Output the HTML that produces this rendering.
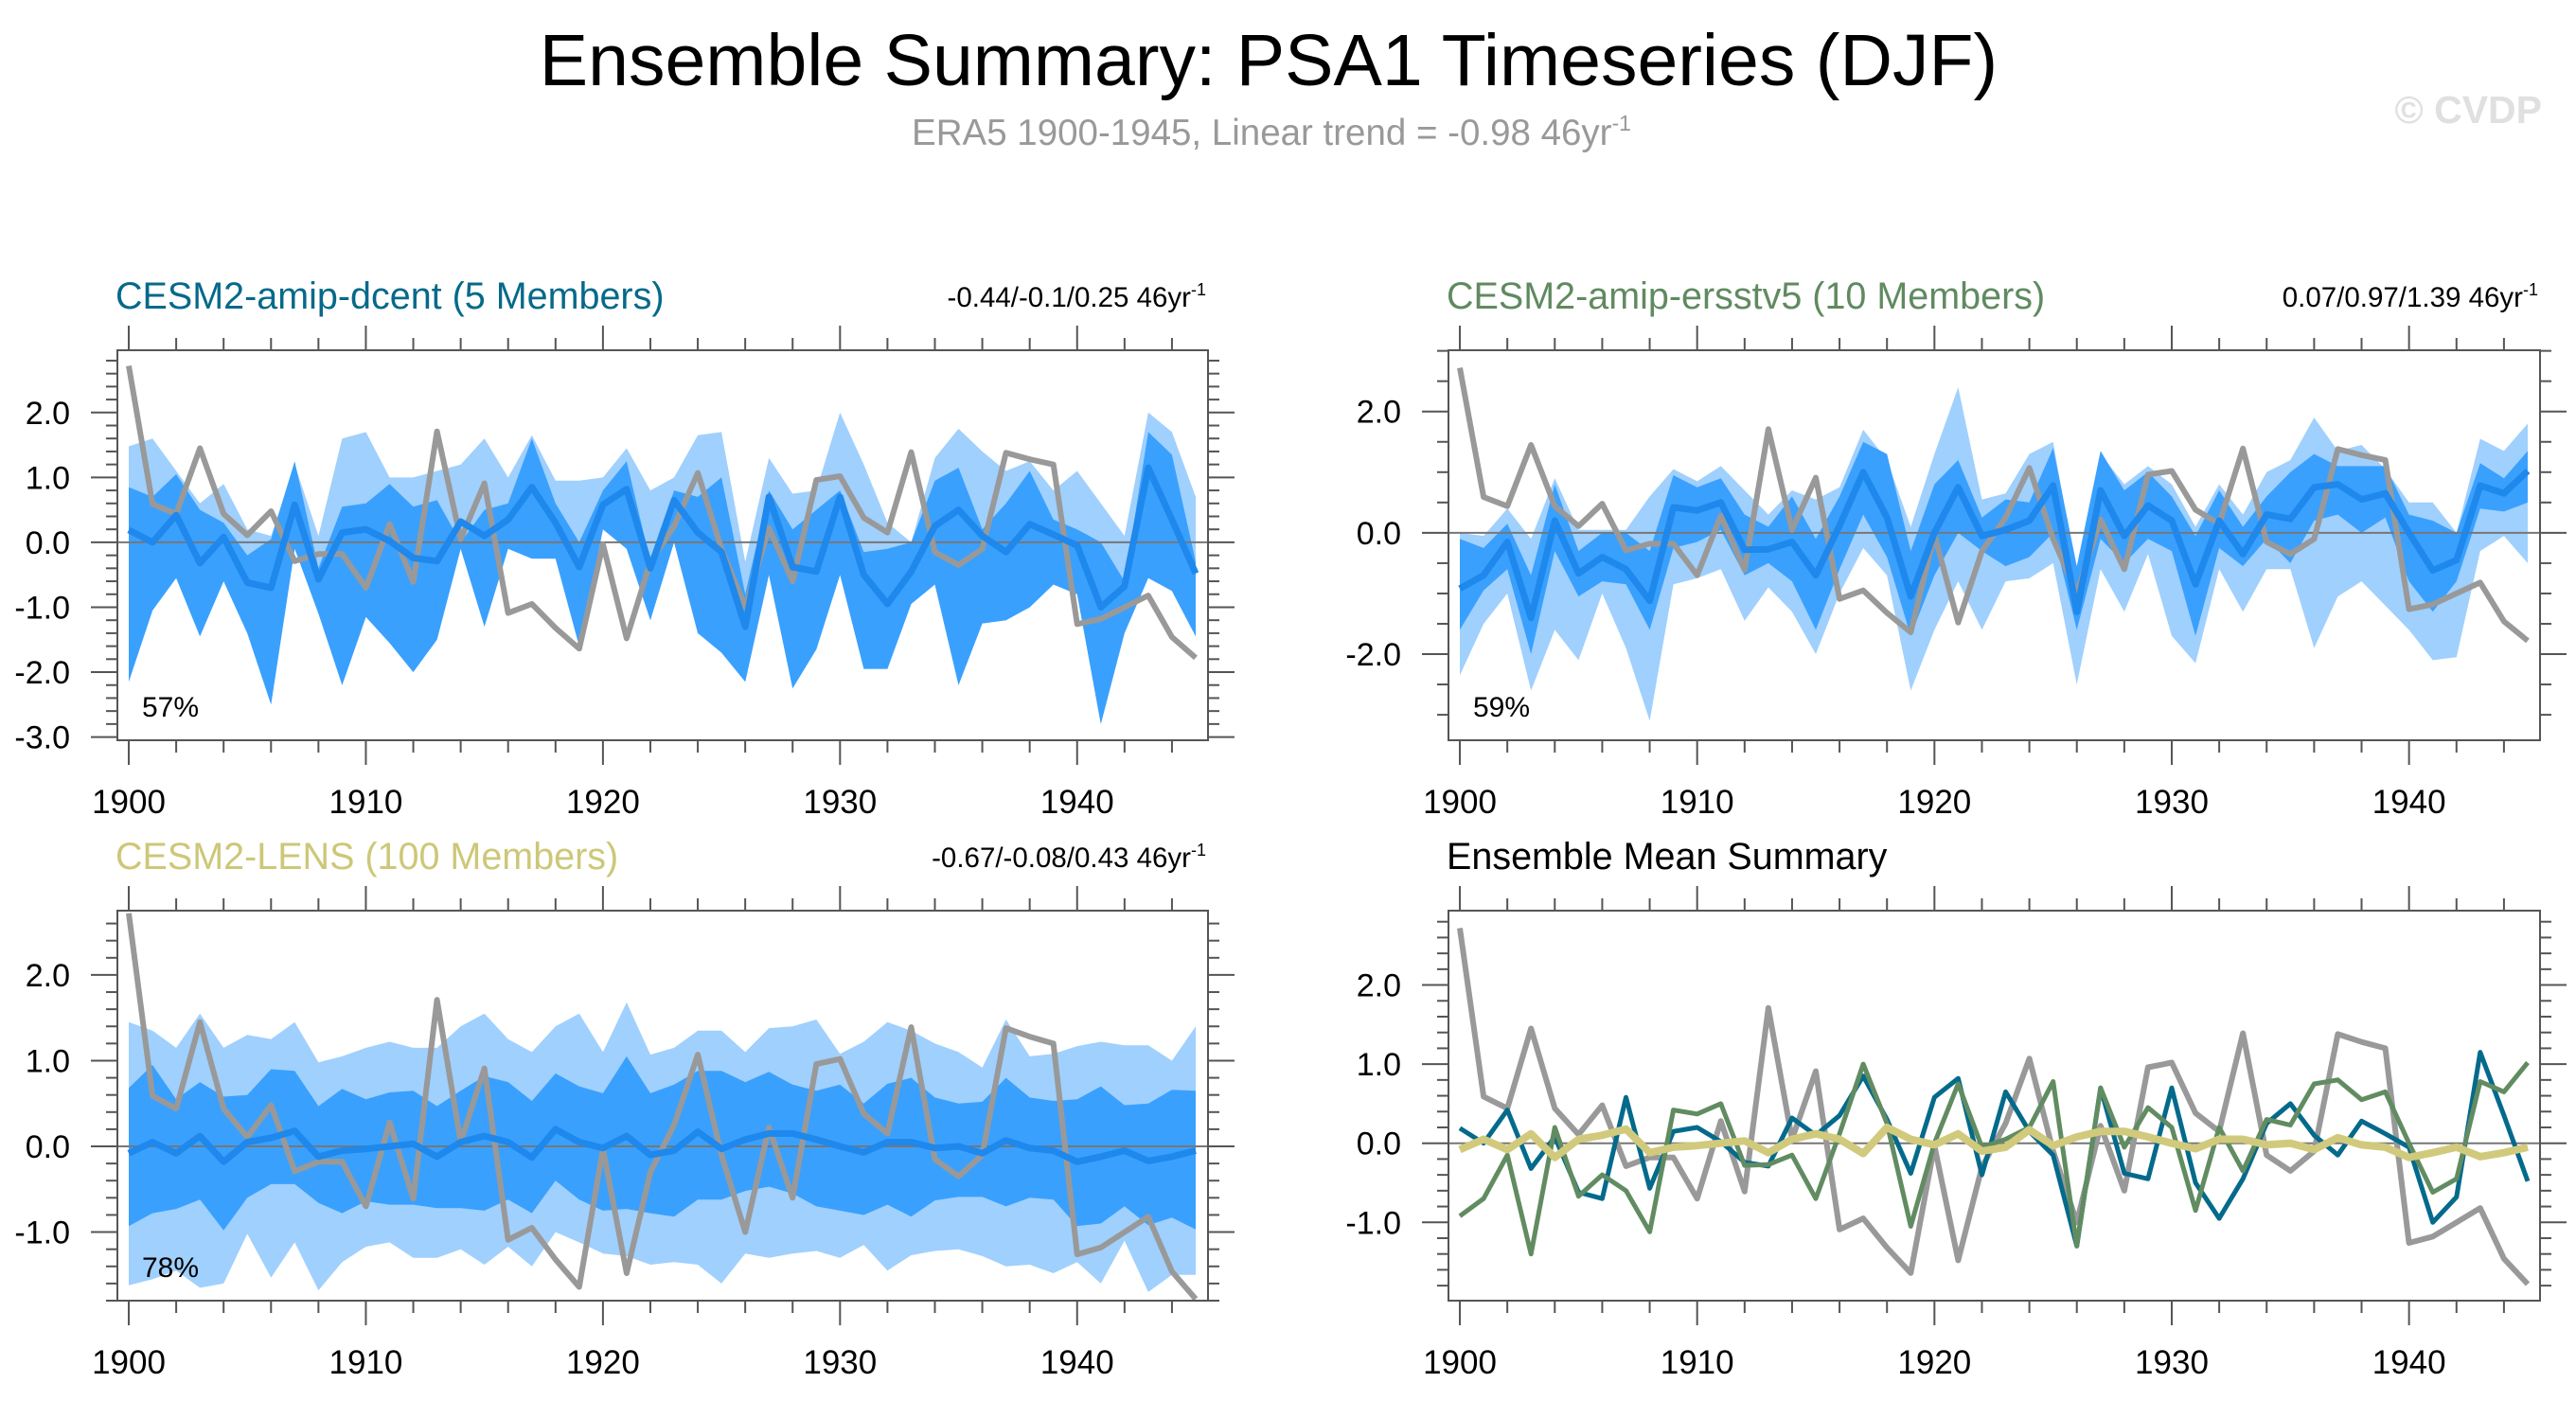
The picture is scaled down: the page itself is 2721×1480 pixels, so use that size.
<!DOCTYPE html>
<html><head><meta charset="utf-8"><style>
html,body{margin:0;padding:0;background:#fff;}
svg{display:block;font-family:"Liberation Sans",Arial,sans-serif;}
</style></head><body>
<svg id="chart" width="2721" height="1480" viewBox="0 0 2721 1480">
<text x="1340" y="90" font-size="77" text-anchor="middle" fill="#000">Ensemble Summary: PSA1 Timeseries (DJF)</text>
<text x="1343" y="153" font-size="38.5" text-anchor="middle" fill="#999">ERA5 1900-1945, Linear trend = -0.98 46yr<tspan dy="-15" font-size="23">-1</tspan></text>
<text x="2685" y="130" font-size="41" font-weight="bold" text-anchor="end" fill="#e0e0e0">© CVDP</text>
</svg>
<script>
const years = []; for (let y = 1900; y <= 1945; y++) years.push(y);
const era5 = [2.72,0.59,0.44,1.45,0.44,0.11,0.48,-0.29,-0.18,-0.18,-0.70,0.28,-0.61,1.71,0.05,0.91,-1.09,-0.95,-1.32,-1.64,-0.03,-1.48,-0.30,0.25,1.07,-0.10,-1.00,0.22,-0.60,0.96,1.02,0.38,0.15,1.39,-0.15,-0.35,-0.10,1.38,1.28,1.20,-1.26,-1.18,-1.00,-0.82,-1.46,-1.78];
const dcentMean = [0.19,0.0,0.42,-0.32,0.08,-0.62,-0.70,0.58,-0.57,0.15,0.20,0.02,-0.24,-0.29,0.32,0.10,0.35,0.85,0.30,-0.38,0.58,0.82,-0.40,0.65,0.15,-0.15,-1.30,0.70,-0.38,-0.45,0.70,-0.50,-0.95,-0.45,0.25,0.50,0.10,-0.15,0.28,0.12,-0.05,-1.00,-0.68,1.15,0.35,-0.48];
const dcentMax = [1.48,1.6,1.1,0.6,0.9,0.2,0.1,1.2,0.1,1.6,1.7,1.0,1.0,1.1,1.2,1.6,1.0,1.65,0.95,0.95,1.0,1.45,0.8,1.0,1.65,1.7,-0.3,1.3,0.75,0.8,2.0,1.2,0.3,0.0,1.3,1.75,1.4,1.1,1.25,0.8,1.1,0.6,0.1,2.0,1.7,0.7];
const dcentHi = [0.85,0.7,1.05,0.5,0.3,-0.2,0.05,1.25,-0.4,0.55,0.6,0.9,0.55,0.65,0.0,0.5,0.6,1.6,0.6,0.0,0.8,1.25,-0.3,0.8,0.7,1.0,-0.8,0.8,0.2,0.5,0.8,-0.15,-0.1,0.0,0.95,1.15,0.2,0.6,1.1,0.35,0.2,0.0,-0.6,1.7,1.35,-0.3];
const dcentLo = [-2.15,-1.05,-0.55,-1.45,-0.6,-1.4,-2.5,-0.1,-1.1,-2.2,-1.15,-1.55,-2.0,-1.5,-0.1,-1.3,-0.1,-0.25,-0.25,-1.6,0.2,-0.1,-1.2,0.0,-1.4,-1.7,-2.15,-0.5,-2.25,-1.65,-0.5,-1.95,-1.95,-0.95,-0.65,-2.2,-1.25,-1.2,-1.0,-0.65,-0.8,-2.8,-1.4,-0.55,-0.75,-1.45];
const dcentMin = dcentLo;
const ersMean = [-0.92,-0.7,-0.15,-1.4,0.2,-0.67,-0.4,-0.6,-1.12,0.42,0.37,0.5,-0.28,-0.27,-0.15,-0.7,0.12,1.0,0.25,-1.05,0.0,0.75,-0.05,0.05,0.2,0.78,-1.3,0.7,-0.05,0.45,0.2,-0.85,0.2,-0.35,0.3,0.23,0.75,0.8,0.55,0.65,0.0,-0.62,-0.45,0.78,0.65,1.02];
const ersMax = [0.0,-0.05,0.4,-0.1,0.9,0.05,0.05,0.05,0.6,1.05,0.85,1.1,0.7,0.3,0.7,0.55,0.75,1.7,1.2,0.1,1.3,2.4,0.55,0.65,1.3,1.5,-0.7,1.3,0.8,1.1,0.8,0.1,0.8,0.3,1.0,1.2,1.9,1.35,1.45,1.05,0.5,0.5,0.0,1.55,1.35,1.8];
const ersHi = [-0.1,-0.25,0.15,-0.7,0.8,-0.3,0.0,0.0,-0.3,0.95,0.75,0.9,0.3,0.1,0.6,-0.1,0.6,1.5,1.3,-0.3,0.8,1.2,0.25,0.55,0.5,1.4,-0.55,1.35,0.7,1.0,0.6,-0.05,0.7,0.1,0.6,1.0,1.3,1.1,1.1,1.1,0.3,0.2,0.0,1.15,0.9,1.35];
const ersLo = [-1.6,-0.95,-0.6,-2.0,-0.3,-1.05,-0.8,-0.85,-1.6,-0.25,-0.15,0.05,-0.7,-0.5,-0.8,-1.6,-0.6,0.3,-0.4,-1.7,-0.7,0.0,-0.3,-0.55,-0.4,0.0,-1.6,-0.1,-0.5,-0.1,-0.3,-1.7,-0.25,-0.55,-0.1,-0.5,0.2,0.3,0.0,0.25,-0.8,-1.3,-0.8,0.4,0.35,0.5];
const ersMin = [-2.35,-1.5,-1.0,-2.6,-1.6,-2.1,-1.0,-1.9,-3.1,-0.85,-0.75,-0.6,-1.45,-0.9,-1.3,-2.0,-1.0,-0.25,-0.7,-2.6,-1.6,-0.8,-1.6,-0.8,-0.75,-0.5,-2.5,-0.6,-1.3,-0.35,-1.7,-2.15,-0.6,-1.3,-0.6,-0.6,-1.9,-1.05,-0.8,-1.2,-1.6,-2.1,-2.05,-0.3,-0.05,-0.5];
const lensMean = [-0.08,0.05,-0.08,0.12,-0.18,0.05,0.1,0.18,-0.12,-0.05,-0.03,0.0,0.03,-0.12,0.05,0.12,0.05,-0.13,0.2,0.05,-0.02,0.12,-0.1,-0.05,0.17,-0.03,0.08,0.15,0.15,0.08,0.0,-0.07,0.05,0.05,-0.02,0.0,-0.08,0.07,-0.02,-0.05,-0.18,-0.12,-0.05,-0.17,-0.12,-0.05];
const lensMax = [1.45,1.35,1.15,1.55,1.15,1.3,1.25,1.45,0.98,1.05,1.15,1.22,1.15,1.15,1.4,1.55,1.25,1.1,1.4,1.55,1.1,1.68,1.07,1.15,1.35,1.35,1.1,1.38,1.4,1.48,1.08,1.22,1.45,1.35,1.2,1.1,0.92,1.48,1.05,1.08,1.17,1.22,1.18,1.18,1.0,1.4];
const lensHi = [0.68,0.95,0.55,0.75,0.58,0.6,0.9,0.88,0.47,0.67,0.55,0.63,0.65,0.47,0.65,0.82,0.75,0.53,0.85,0.7,0.62,1.05,0.62,0.72,0.88,0.88,0.75,0.87,0.72,0.65,0.72,0.5,0.73,0.8,0.57,0.5,0.52,0.8,0.57,0.53,0.55,0.7,0.48,0.5,0.66,0.65];
const lensLo = [-0.93,-0.78,-0.73,-0.62,-0.98,-0.6,-0.44,-0.44,-0.66,-0.78,-0.64,-0.68,-0.68,-0.72,-0.72,-0.75,-0.62,-0.78,-0.4,-0.62,-0.75,-0.73,-0.78,-0.82,-0.62,-0.62,-0.52,-0.47,-0.55,-0.7,-0.75,-0.8,-0.68,-0.82,-0.63,-0.59,-0.59,-0.7,-0.6,-0.62,-0.93,-0.9,-0.7,-0.92,-0.83,-0.97];
const lensMin = [-1.62,-1.55,-1.45,-1.65,-1.6,-1.02,-1.53,-1.12,-1.68,-1.35,-1.17,-1.12,-1.3,-1.3,-1.2,-1.38,-1.17,-1.4,-1.0,-1.12,-1.25,-1.28,-1.38,-1.35,-1.38,-1.6,-1.25,-1.3,-1.25,-1.22,-1.3,-1.15,-1.45,-1.27,-1.22,-1.2,-1.28,-1.4,-1.38,-1.48,-1.35,-1.6,-1.1,-1.7,-1.5,-1.5];
const xTickLabels = [1900,1910,1920,1930,1940];

const NS = "http://www.w3.org/2000/svg";
const svg = document.getElementById('chart');
function mk(tag, attrs, parent) {
  const e = document.createElementNS(NS, tag);
  for (const k in attrs) e.setAttribute(k, attrs[k]);
  (parent || svg).appendChild(e);
  return e;
}
const panels = [
  {id:'dcent', L:124, R:1276, T:370, B:782, ymin:-3.05, ymax:2.96, major:[-3,-2,-1,0,1,2], labels:[-3,-2,-1,0,1,2], minorStep:0.2,
   title:'CESM2-amip-dcent (5 Members)', tcol:'#06698a', trend:'-0.44/-0.1/0.25 46yr', pct:'57%', mean:dcentMean, max:dcentMax, hi:dcentHi, lo:dcentLo, min:dcentMin},
  {id:'ersstv5', L:1530, R:2683, T:370, B:782, ymin:-3.42, ymax:3.01, major:[-2,0,2], labels:[-2,0,2], minorStep:0.5,
   title:'CESM2-amip-ersstv5 (10 Members)', tcol:'#608a60', trend:'0.07/0.97/1.39 46yr', pct:'59%', mean:ersMean, max:ersMax, hi:ersHi, lo:ersLo, min:ersMin},
  {id:'lens', L:124, R:1276, T:962, B:1374, ymin:-1.80, ymax:2.75, major:[-1,0,1,2], labels:[-1,0,1,2], minorStep:0.2,
   title:'CESM2-LENS (100 Members)', tcol:'#cdc778', trend:'-0.67/-0.08/0.43 46yr', pct:'78%', mean:lensMean, max:lensMax, hi:lensHi, lo:lensLo, min:lensMin},
  {id:'summary', L:1530, R:2683, T:962, B:1374, ymin:-1.99, ymax:2.94, major:[-1,0,1,2], labels:[-1,0,1,2], minorStep:0.2,
   title:'Ensemble Mean Summary', tcol:'#000', summary:true}
];
panels.forEach((p, pi) => {
  const g = mk('g', {});
  
  
  const xs = yr => p.L + (yr - 1899.52) / (1945.52 - 1899.52) * (p.R - p.L);
  const ys = v => p.B - (v - p.ymin) / (p.ymax - p.ymin) * (p.B - p.T);
  const clipId = 'clip' + pi;
  const cp = mk('clipPath', {id: clipId}, g);
  mk('rect', {x:p.L, y:p.T, width:p.R-p.L, height:p.B-p.T}, cp);
  const plot = mk('g', {'clip-path':'url(#'+clipId+')'}, g);
  const line = arr => arr.map((v,i)=>(i?'L':'M')+xs(years[i]).toFixed(1)+','+ys(v).toFixed(1)).join(' ');
  const band = (up, dn) => line(up) + ' ' + dn.slice().reverse().map((v,j)=>{const i=dn.length-1-j;return 'L'+xs(years[i]).toFixed(1)+','+ys(v).toFixed(1);}).join(' ') + ' Z';
  if (!p.summary) {
    const b1 = mk('path', {d: band(p.max, p.min), fill:'#a0d0fd'}, plot);
    
    
    const b2 = mk('path', {d: band(p.hi, p.lo), fill:'#3aa0fe'}, plot);
    
    
  }
  mk('line', {x1:p.L, x2:p.R, y1:ys(0), y2:ys(0), stroke:'#777', 'stroke-width':2}, plot);
  const e = mk('path', {d: line(era5), fill:'none', stroke:'#999', 'stroke-width':6, 'stroke-linejoin':'round'}, plot);
  
  
  if (!p.summary) {
    const m = mk('path', {d: line(p.mean), fill:'none', stroke:'#1e88ec', 'stroke-width':7, 'stroke-linejoin':'round'}, plot);
    
    
  } else {
    [[dcentMean,'#046a8c',5,'dcent-mean-line'],[ersMean,'#618c61',5,'ersstv5-mean-line'],[lensMean,'#d1ca7c',8,'lens-mean-line']].forEach(s=>{
      const m = mk('path', {d: line(s[0]), fill:'none', stroke:s[1], 'stroke-width':s[2], 'stroke-linejoin':'round'}, plot);
      
      
    });
  }
  const box = mk('rect', {x:p.L, y:p.T, width:p.R-p.L, height:p.B-p.T, fill:'none', stroke:'#555', 'stroke-width':2}, g);
  
  
  for (let yr = 1900; yr <= 1945; yr += 2) {
    const maj = (yr % 10 === 0), len = maj ? 26 : 13, x = xs(yr);
    mk('line', {x1:x, x2:x, y1:p.T, y2:p.T-len, stroke:'#555', 'stroke-width':2}, g);
    mk('line', {x1:x, x2:x, y1:p.B, y2:p.B+len, stroke:'#555', 'stroke-width':2}, g);
  }
  xTickLabels.forEach(v => {
    const t = mk('text', {x:xs(v), y:p.B+77, 'font-size':35, 'text-anchor':'middle', fill:'#000'}, g);
    t.textContent = v;
    
    
  });
  const n0 = Math.ceil(p.ymin / p.minorStep - 1e-6), n1 = Math.floor(p.ymax / p.minorStep + 1e-6);
  for (let n = n0; n <= n1; n++) {
    const v = n * p.minorStep, y = ys(v);
    const maj = p.major.some(m => Math.abs(m - v) < 1e-6), len = maj ? 28 : 12;
    mk('line', {x1:p.L, x2:p.L-len, y1:y, y2:y, stroke:'#555', 'stroke-width':2}, g);
    mk('line', {x1:p.R, x2:p.R+len, y1:y, y2:y, stroke:'#555', 'stroke-width':2}, g);
  }
  p.labels.forEach(v => {
    const t = mk('text', {x:p.L-50, y:ys(v)+12, 'font-size':34, 'text-anchor':'end', fill:'#000'}, g);
    t.textContent = v.toFixed(1);
    
    
  });
  const tt = mk('text', {x:p.L-2, y:p.T-44, 'font-size':39.5, fill:p.tcol}, g);
  tt.textContent = p.title;
  
  
  if (p.trend) {
    const tr = mk('text', {x:p.R-2, y:p.T-46, 'font-size':29.5, 'text-anchor':'end', fill:'#000'}, g);
    tr.textContent = p.trend;
    const sup = mk('tspan', {dy:-12, 'font-size':18}, tr);
    sup.textContent = '-1';
    
    
    const pc = mk('text', {x:p.L+26, y:p.B-25, 'font-size':30, fill:'#000'}, g);
    pc.textContent = p.pct;
    
    
  }
});
</script>
</body></html>
